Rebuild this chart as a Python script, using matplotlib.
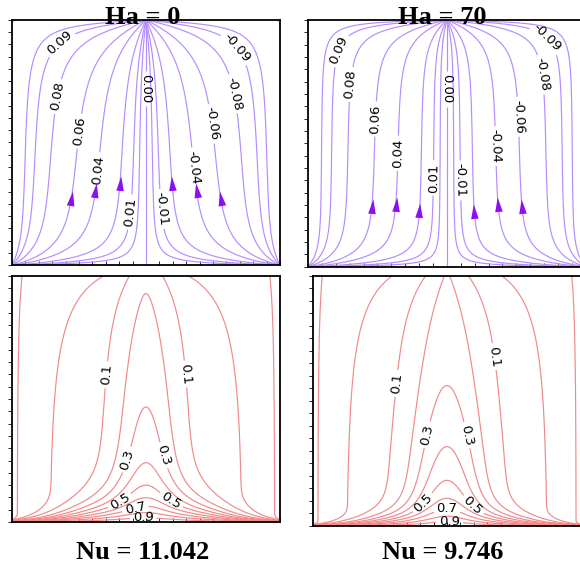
import numpy as np
import matplotlib.pyplot as plt
from matplotlib.ticker import MultipleLocator

ha_values = [0, 70]
nu_values = ['11.042', '9.746']
psi_levels = [-0.095, -0.09, -0.08, -0.06, -0.04, -0.02, -0.01, -0.005, 0.0,
              0.005, 0.01, 0.02, 0.04, 0.06, 0.08, 0.09, 0.095]
psi_labelled = [0.09, 0.08, 0.06, 0.04, 0.01, 0.0, -0.01, -0.04, -0.06, -0.08, -0.09]
arrow_levels = [0.06, 0.04, 0.02, -0.02, -0.04, -0.06]
theta_levels = [0.02, 0.05, 0.1, 0.2, 0.3, 0.4, 0.5, 0.6, 0.7, 0.8, 0.9]
theta_labelled = [[0.1, 0.1, 0.3, 0.3, 0.5, 0.7, 0.9, 0.5],
                  [0.1, 0.1, 0.3, 0.3, 0.5, 0.7, 0.5, 0.9]]

# model shape of each case: vertical stretching of the cell (mid, bottom, top)
stream_shape = [dict(m=0.5, b=0.3, lb=0.16, t=0.25, lt=0.3, k=0.6),
                dict(m=0.9, b=0.35, lb=0.12, t=0.3, lt=0.15, k=0.6)]
plume_shape = [dict(a0=0.0, a1=0.363, la=1.0, s0=0.115, b0=0.072, h0=0.09),
               dict(a0=0.098, a1=0.459, la=0.45, s0=0.14, b0=0.075, h0=0.058)]

# label / arrow placement (axes data coords)
psi_label_pos = [
    [(0.20, 0.88), (0.16, 0.69), (0.22, 0.55), (0.31, 0.39), (0.41, 0.22), (0.49, 0.72),
     (0.57, 0.23), (0.69, 0.40), (0.77, 0.58), (0.83, 0.70), (0.82, 0.87)],
    [(0.13, 0.87), (0.14, 0.74), (0.22, 0.60), (0.32, 0.46), (0.43, 0.36), (0.50, 0.72),
     (0.57, 0.35), (0.70, 0.49), (0.80, 0.61), (0.85, 0.78), (0.83, 0.89)],
]
theta_label_pos = [
    [(0.34, 0.60), (0.63, 0.60), (0.44, 0.25), (0.53, 0.26), (0.41, 0.07), (0.46, 0.057),
     (0.49, 0.02), (0.55, 0.016)],
    [(0.31, 0.57), (0.69, 0.68), (0.45, 0.36), (0.56, 0.36), (0.43, 0.072), (0.50, 0.072),
     (0.58, 0.064), (0.51, 0.03)],
]
arrow_y = [[0.27, 0.30, 0.33, 0.33, 0.30, 0.27], [0.24, 0.25, 0.22, 0.22, 0.25, 0.24]]

LINE_PURPLE = '#b58cff'
ARROW_PURPLE = '#8a10f0'
LINE_RED = '#f08a8a'


def ratio(k, s, L):
    return np.exp(k * (s - L)) * (1 - np.exp(-2 * k * s)) / (1 - np.exp(-2 * k * L))


def stretch(Y, p):
    return (p['m'] * Y + p['b'] * (1 - np.exp(-Y / p['lb']))
            + p['t'] * (np.exp(-(1 - Y) / p['lt']) - np.exp(-1 / p['lt'])))


def stream_function(X, Y, p, nterms=301):
    a = 0.5
    height = stretch(1.0, p)
    r = np.where(X <= 0.5, X, 1 - X) / a
    xl = a * (r - p['k'] * r * (1 - r) ** 2)
    sign = np.where(X <= 0.5, 1.0, -1.0)
    eta = stretch(Y, p)
    psi = np.zeros_like(X)
    for n in range(1, nterms + 1, 2):
        w = 4 / (n * np.pi) * np.sinc(n / (nterms + 2))
        k1 = n * np.pi / height
        psi += w * np.sin(k1 * eta) * ratio(k1, a - xl, a)
        k2 = n * np.pi / a
        psi += w * np.sin(k2 * xl) * ratio(k2, eta, height)
    return 0.1 * sign * psi


def temperature(X, Y, p):
    d = np.abs(X - 0.5)
    top = np.exp(-(1 - Y) / 0.12)
    amp = p['a0'] + p['a1'] * np.exp(-Y / p['la'])
    sig = p['s0'] * (1 - 0.47 * top)
    cool = 1 - 0.27 * np.exp(-(1 - Y) / 0.3)
    bg = p['b0'] * cool * np.sqrt(np.clip(1 - (2 * d) ** 2, 0, 1))
    u = amp * np.exp(-(d / sig) ** 2) + bg
    h = p['h0'] * np.exp(-(d / 0.27) ** 2)
    k = np.exp(-Y / h) * (1 - np.exp(-(0.5 - d) / 0.01))
    return u + k * (1 - u)


def style_axes(ax):
    ax.set_xlim(0, 1)
    ax.set_ylim(0, 1)
    ax.xaxis.set_major_locator(MultipleLocator(0.1))
    ax.xaxis.set_minor_locator(MultipleLocator(0.05))
    ax.yaxis.set_major_locator(MultipleLocator(0.1))
    ax.yaxis.set_minor_locator(MultipleLocator(0.05))
    ax.tick_params(which='both', labelbottom=False, labelleft=False, top=False, right=False)
    ax.tick_params(axis='x', which='both', direction='in', length=3, width=0.6)
    ax.tick_params(axis='y', which='both', direction='out', length=3, width=0.6)
    for s in ax.spines.values():
        s.set_linewidth(1.3)


def draw_levels(ax, F, levels, color):
    # one contour set per level so each can be labelled on its own
    sets = {}
    for lev in levels:
        sets[lev] = ax.contour(X, Y, F, levels=[lev], colors=color, linewidths=0.85,
                               negative_linestyles='solid')
    return sets


def label_levels(sets, labelled, positions, fmt):
    for lev in sorted(set(labelled)):
        pts = [p for l, p in zip(labelled, positions) if l == lev]
        sets[lev].clabel([lev], manual=pts, fmt=fmt, fontsize=9.5, colors='black',
                         inline=True, inline_spacing=3)


def add_arrow(ax, cs, y0):
    for seg in cs.allsegs[0]:
        ys = seg[:, 1]
        hit = np.where((ys[:-1] - y0) * (ys[1:] - y0) <= 0)[0]
        if len(hit) == 0:
            continue
        i = hit[0]
        p1 = seg[max(i - 2, 0)]
        p2 = seg[min(i + 3, len(seg) - 1)]
        if p2[1] < p1[1]:
            p1, p2 = p2, p1
        d1 = ax.transData.transform(p1)
        d2 = ax.transData.transform(p2)
        t = np.arctan2(d2[1] - d1[1], d2[0] - d1[0]) - np.pi / 2
        tri = np.array([[0, 1.0], [-0.42, -0.6], [0.42, -0.6], [0, 1.0]])
        rot = np.array([[np.cos(t), -np.sin(t)], [np.sin(t), np.cos(t)]])
        verts = tri @ rot.T
        mid = seg[i]
        ax.plot(mid[0], mid[1], marker=verts, markersize=13, color=ARROW_PURPLE,
                markeredgewidth=0, zorder=5)
        return


x = np.linspace(0, 1, 301)
y = np.linspace(0, 1, 301)
X, Y = np.meshgrid(x, y)

fig = plt.figure(figsize=(5.8, 5.7), dpi=100)
top_rects = [[0.0207, 0.535, 0.462, 0.430], [0.531, 0.532, 0.479, 0.433]]
bot_rects = [[0.0207, 0.0842, 0.462, 0.4316], [0.5397, 0.0772, 0.462, 0.4386]]
title_x = [0.246, 0.763]

for j in range(2):
    ax = fig.add_axes(top_rects[j])
    style_axes(ax)
    psi = stream_function(X, Y, stream_shape[j])
    psets = draw_levels(ax, psi, psi_levels, LINE_PURPLE)
    label_levels(psets, psi_labelled, psi_label_pos[j], '%.2f')
    for lev, ya in zip(arrow_levels, arrow_y[j]):
        add_arrow(ax, psets[lev], ya)

    ax2 = fig.add_axes(bot_rects[j])
    style_axes(ax2)
    theta = temperature(X, Y, plume_shape[j])
    tsets = draw_levels(ax2, theta, theta_levels, LINE_RED)
    label_levels(tsets, theta_labelled[j], theta_label_pos[j], '%.1f')

    fig.text(title_x[j], 0.970, f'Ha = {ha_values[j]}', ha='center', va='center',
             fontsize=19, fontweight='bold', family='Liberation Serif')
    fig.text(title_x[j], 0.030, f'Nu = {nu_values[j]}', ha='center', va='center',
             fontsize=19, fontweight='bold', family='Liberation Serif')

fig.savefig('out.png', dpi=100)
